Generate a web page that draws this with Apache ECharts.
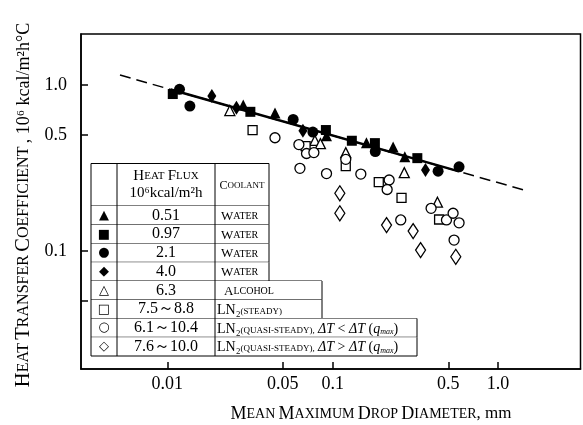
<!DOCTYPE html>
<html>
<head>
<meta charset="utf-8">
<script src="https://cdn.jsdelivr.net/npm/echarts@6/dist/echarts.min.js"></script>
<style>
html, body { margin: 0; padding: 0; background: #fff; }
#chart { width: 583px; height: 425px; }
</style>
</head>
<body>
<div id="chart"></div>
<script>
// [mean maximum drop diameter (mm), heat transfer coefficient (10^6 kcal/m2h°C)]
const water051 = [[0.0288, 0.758], [0.0448, 0.678], [0.0918, 0.496], [0.160, 0.449], [0.232, 0.423], [0.273, 0.370]];
const water097 = [[0.0108, 0.883], [0.0318, 0.690], [0.0910, 0.536], [0.1306, 0.462], [0.180, 0.447], [0.325, 0.363]];
const water21 = [[0.01186, 0.942], [0.0137, 0.747], [0.0577, 0.621], [0.0759, 0.521], [0.181, 0.398], [0.434, 0.303], [0.581, 0.322]];
const water40 = [[0.0186, 0.858], [0.0262, 0.730], [0.0661, 0.531], [0.364, 0.308]];
const alcohol63 = [[0.0239, 0.702], [0.0781, 0.464], [0.0843, 0.444], [0.120, 0.392], [0.271, 0.297], [0.430, 0.197]];
const ln2Steady = [[0.0328, 0.536], [0.0686, 0.429], [0.120, 0.325], [0.190, 0.2605], [0.2608, 0.209], [0.440, 0.155]];
const ln2QuasiLow = [[0.0448, 0.4815], [0.0625, 0.438], [0.0695, 0.387], [0.0770, 0.392], [0.120, 0.357], [0.0634, 0.315],
  [0.0918, 0.293], [0.148, 0.291], [0.2195, 0.268], [0.2135, 0.235], [0.258, 0.154], [0.3936, 0.181],
  [0.4875, 0.154], [0.5346, 0.169], [0.581, 0.148], [0.542, 0.1165]];
const ln2QuasiHigh = [[0.1105, 0.223], [0.1105, 0.169], [0.2117, 0.1435], [0.3065, 0.132], [0.340, 0.1014], [0.555, 0.0924]];
// correlation line
const fitSolid = [[0.0105, 0.94], [0.58, 0.302]];
const fitDashed = [[0.00518, 1.149], [1.485, 0.231]];

const xTicks = [0.01, 0.05, 0.1, 0.5, 1.0];
const xTickLabels = ['0.01', '0.05', '0.1', '0.5', '1.0'];
const yTicks = [1.0, 0.5, 0.1, 0.05];
const yLabelTicks = [1.0, 0.5, 0.1];
const yTickLabels = ['1.0', '0.5', '0.1'];

// key table
const keySymbols = ['▲', '■', '●', '◆', '△', '□', '○', '◇'];
const keyFlux = ['0.51', '0.97', '2.1', '4.0', '6.3', '7.5～8.8', '6.1～10.4', '7.6～10.0'];
const keyCoolant = [
  '{C|W}{c|ATER}', '{C|W}{c|ATER}', '{C|W}{c|ATER}', '{C|W}{c|ATER}',
  '{C|A}{c|LCOHOL}',
  '{L|LN₂}{t|(STEADY)}',
  '{L|LN₂}{t|(QUASI-STEADY),} {i|ΔT}{L| < }{i|ΔT}{L| (}{i|q}{s|max}{L|)}',
  '{L|LN₂}{t|(QUASI-STEADY),} {i|ΔT}{L| > }{i|ΔT}{L| (}{i|q}{s|max}{L|)}'
];

const serif = 'Liberation Serif';
const richText = {
  C: { fontFamily: serif, fontSize: 13, fill: '#000' },
  c: { fontFamily: serif, fontSize: 10, fill: '#000' },
  L: { fontFamily: serif, fontSize: 14, fill: '#000' },
  t: { fontFamily: serif, fontSize: 9, fill: '#000', verticalAlign: 'bottom', padding: [0, 0, 1, 0] },
  s: { fontFamily: serif, fontSize: 8, fontStyle: 'italic', fill: '#000', verticalAlign: 'bottom' },
  i: { fontFamily: serif, fontSize: 14, fontStyle: 'italic', fill: '#000' }
};

function buildKey() {
  const left = 91, col1 = 117, col2 = 215;
  const top = 163.5, headBottom = 206, rowH = 18.75;
  const rowRight = [269, 269, 269, 269, 322, 322, 417, 417];
  const els = [];
  const line = (x1, y1, x2, y2) => els.push({
    type: 'line', shape: { x1, y1, x2, y2 }, style: { stroke: '#000', lineWidth: 1 }
  });
  els.push({ type: 'rect', shape: { x: left, y: top, width: 269 - left, height: headBottom - top }, style: { fill: '#fff' } });
  line(left, top, 269, top);
  line(left, headBottom, 269, headBottom);
  line(269, top, 269, headBottom);
  keySymbols.forEach((s, i) => {
    const y0 = headBottom + i * rowH, y1 = y0 + rowH, yc = (y0 + y1) / 2;
    const r = rowRight[i];
    els.push({ type: 'rect', shape: { x: left, y: y0, width: r - left, height: rowH }, style: { fill: '#fff' } });
    const nextR = i < rowRight.length - 1 ? Math.max(r, rowRight[i + 1]) : r;
    line(left, y1, nextR, y1);
    line(r, y0, r, y1);
    els.push({ type: 'text', x: 104, y: yc, style: { text: s, font: '13px DejaVu Sans', fill: '#000', align: 'center', verticalAlign: 'middle' } });
    els.push({ type: 'text', x: 166, y: yc, style: { text: keyFlux[i], font: '16px ' + serif, fill: '#000', align: 'center', verticalAlign: 'middle' } });
    const cx = i < 4 ? 221 : (i === 4 ? 224 : 217);
    els.push({ type: 'text', x: cx, y: yc + 1, style: { text: keyCoolant[i], rich: richText, align: 'left', verticalAlign: 'middle' } });
  });
  const bottom = headBottom + keySymbols.length * rowH;
  line(left, top, left, bottom);
  line(col1, top, col1, bottom);
  line(col2, top, col2, bottom);
  els.push({ type: 'text', x: 166, y: 176, style: { text: '{C|H}{c|EAT} {C|F}{c|LUX}', rich: { C: { fontFamily: serif, fontSize: 15 }, c: { fontFamily: serif, fontSize: 11 } }, align: 'center', verticalAlign: 'middle' } });
  els.push({ type: 'text', x: 166, y: 193, style: { text: '10⁶kcal/m²h', font: '15px ' + serif, fill: '#000', align: 'center', verticalAlign: 'middle' } });
  els.push({ type: 'text', x: 242, y: 186, style: { text: '{C|C}{c|OOLANT}', rich: { C: { fontFamily: serif, fontSize: 12 }, c: { fontFamily: serif, fontSize: 9 } }, align: 'center', verticalAlign: 'middle' } });
  return els;
}

const chart = echarts.init(document.getElementById('chart'));

const filled = { color: '#000', opacity: 1 };
const hollow = { color: '#fff', borderColor: '#000', borderWidth: 1.3, opacity: 1 };

chart.setOption({
  animation: false,
  backgroundColor: '#fff',
  grid: { left: 81, top: 34, right: 2.5, bottom: 56, show: true, borderColor: '#000', borderWidth: 1.5 },
  xAxis: {
    type: 'log',
    min: 0.00301,
    max: 3.15,
    axisLine: { lineStyle: { color: '#000', width: 1.5 } },
    axisTick: { show: true, inside: true, length: 7, customValues: xTicks, lineStyle: { color: '#000', width: 1.5 } },
    axisLabel: {
      customValues: xTicks, margin: 6, color: '#000', fontFamily: serif, fontSize: 18,
      formatter: v => xTickLabels[xTicks.findIndex(t => Math.abs(t - v) / t < 1e-6)]
    },
    minorTick: { show: false },
    splitLine: { show: false }
  },
  yAxis: {
    type: 'log',
    min: 0.0195,
    max: 2.03,
    axisLine: { lineStyle: { color: '#000', width: 1.5 } },
    axisTick: { show: true, inside: true, length: 7, customValues: yTicks, lineStyle: { color: '#000', width: 1.5 } },
    axisLabel: {
      customValues: yLabelTicks, margin: 14, color: '#000', fontFamily: serif, fontSize: 18,
      formatter: v => yTickLabels[yLabelTicks.findIndex(t => Math.abs(t - v) / t < 1e-6)]
    },
    splitLine: { show: false }
  },
  graphic: [
    ...buildKey(),
    {
      type: 'text', x: 371, y: 414,
      style: {
        text: '{C|M}{c|EAN} {C|M}{c|AXIMUM} {C|D}{c|ROP} {C|D}{c|IAMETER}{n|, mm}',
        rich: { C: { fontFamily: serif, fontSize: 18 }, c: { fontFamily: serif, fontSize: 14 }, n: { fontFamily: serif, fontSize: 17 } },
        align: 'center', verticalAlign: 'middle'
      }
    },
    {
      type: 'text', x: 24, y: 205, rotation: Math.PI / 2,
      style: {
        text: '{C|H}{c|EAT} {C|T}{c|RANSFER} {C|C}{c|OEFFICIENT} {n|, 10⁶ kcal/m²h°C}',
        rich: { C: { fontFamily: serif, fontSize: 20.5 }, c: { fontFamily: serif, fontSize: 16 }, n: { fontFamily: serif, fontSize: 18 } },
        align: 'center', verticalAlign: 'middle'
      }
    }
  ],
  series: [
    { type: 'line', data: fitDashed, symbol: 'none', lineStyle: { color: '#000', width: 1.5, type: [11, 6] }, z: 1 },
    { type: 'line', data: fitSolid, symbol: 'none', lineStyle: { color: '#000', width: 2.5 }, z: 1 },
    { name: '0.51 Water', type: 'scatter', data: water051, symbol: 'triangle', symbolSize: 11, itemStyle: filled, z: 3 },
    { name: '0.97 Water', type: 'scatter', data: water097, symbol: 'rect', symbolSize: 10, itemStyle: filled, z: 3 },
    { name: '2.1 Water', type: 'scatter', data: water21, symbol: 'circle', symbolSize: 11, itemStyle: filled, z: 3 },
    { name: '4.0 Water', type: 'scatter', data: water40, symbol: 'diamond', symbolSize: [9, 14], itemStyle: filled, z: 3 },
    { name: '6.3 Alcohol', type: 'scatter', data: alcohol63, symbol: 'triangle', symbolSize: 10, itemStyle: hollow, z: 2 },
    { name: '7.5~8.8 LN2 steady', type: 'scatter', data: ln2Steady, symbol: 'rect', symbolSize: 9, itemStyle: hollow, z: 2 },
    { name: '6.1~10.4 LN2 quasi-steady', type: 'scatter', data: ln2QuasiLow, symbol: 'circle', symbolSize: 10, itemStyle: hollow, z: 2 },
    { name: '7.6~10.0 LN2 quasi-steady', type: 'scatter', data: ln2QuasiHigh, symbol: 'diamond', symbolSize: [10, 15], itemStyle: hollow, z: 2 }
  ]
});
</script>
</body>
</html>
